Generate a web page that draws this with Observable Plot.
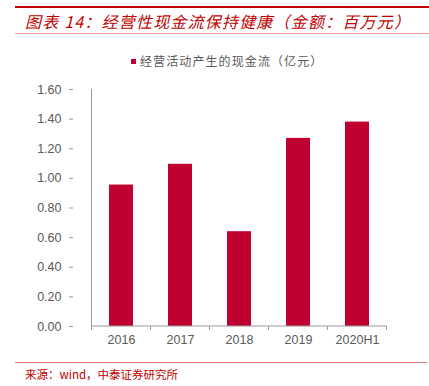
<!DOCTYPE html>
<html>
<head>
<meta charset="utf-8">
<script src="https://cdn.jsdelivr.net/npm/d3@7"></script>
<script src="https://cdn.jsdelivr.net/npm/@observablehq/plot@0.6"></script>
<style>
  html, body { margin: 0; padding: 0; background: #fff; width: 429px; height: 386px; overflow: hidden; position: relative; font-family: "Liberation Sans", Arial, sans-serif; }
  .topline { position: absolute; left: 15px; right: 0; top: 6px; height: 2px; background: #C00000; }
  .subline { position: absolute; left: 15px; right: 0; top: 33px; height: 1px; background: #F0A0A0; }
  .title { position: absolute; left: 25px; top: 11px; font-family: "Noto Sans CJK SC", sans-serif; font-style: italic; font-size: 16px; line-height: 20px; color: #C00000; letter-spacing: 1.2px; white-space: nowrap; }
  .legend { position: absolute; left: 131px; top: 52px; font-family: "Noto Sans CJK SC", sans-serif; font-size: 12px; line-height: 18px; color: #595959; white-space: nowrap; letter-spacing: 1.1px; }
  .legend .sw { display: inline-block; width: 5px; height: 5px; background: #C00030; margin-right: 4px; vertical-align: 2px; }
  #chart { position: absolute; left: 0; top: 80px; }
  .footline { position: absolute; left: 15px; right: 2px; top: 362px; height: 1px; background: #E88080; }
  .source { position: absolute; left: 25px; top: 366px; font-family: "Noto Sans CJK SC", sans-serif; font-size: 11.5px; line-height: 16px; color: #C00000; white-space: nowrap; }
</style>
</head>
<body>
<div class="topline"></div>
<div class="title">图表 14：经营性现金流保持健康（金额：百万元）</div>
<div class="subline"></div>
<div class="legend"><span class="sw"></span>经营活动产生的现金流（亿元）</div>
<div id="chart"></div>
<div class="footline"></div>
<div class="source">来源：wind，中泰证券研究所</div>
<script>
const categories = ["2016", "2017", "2018", "2019", "2020H1"];
const values = [0.955, 1.095, 0.64, 1.27, 1.38];
const yTicks = [0, 0.2, 0.4, 0.6, 0.8, 1.0, 1.2, 1.4, 1.6];

const data = categories.map((c, i) => ({cat: c, val: values[i]}));

// y-axis line plus tick marks at band boundaries on the x axis
function axisLinesAndBoundaryTicks(index, scales, values, dimensions) {
  const x = scales.x;
  const y = scales.y;
  const step = x.step();
  const bw = x.bandwidth();
  const y0 = y(0);
  const yTop = y(yTicks[yTicks.length - 1]);
  const xLeft = x(categories[0]) - (step - bw) / 2;
  const g = d3.create("svg:g");
  g.append("line").attr("x1", xLeft).attr("x2", xLeft).attr("y1", yTop).attr("y2", y0)
    .attr("stroke", "#9a9a9a").attr("stroke-width", 1);
  const xs = categories.map(c => x(c) - (step - bw) / 2);
  xs.push(x(categories[categories.length - 1]) + bw + (step - bw) / 2);
  for (const px of xs) {
    g.append("line").attr("x1", px).attr("x2", px).attr("y1", y0).attr("y2", y0 + 4)
      .attr("stroke", "#9a9a9a").attr("stroke-width", 1);
  }
  g.append("line").attr("x1", xs[0]).attr("x2", xs[xs.length - 1]).attr("y1", y0).attr("y2", y0)
    .attr("stroke", "#9a9a9a").attr("stroke-width", 1);
  return g.node();
}

const chart = Plot.plot({
  width: 429,
  height: 275,
  marginLeft: 73,
  marginRight: 25,
  marginTop: 9,
  marginBottom: 29,
  style: { fontFamily: "'Liberation Sans', Arial, sans-serif", fontSize: "12px", color: "#595959", background: "transparent" },
  x: { domain: categories, padding: 0.6, align: 0.5, label: null },
  y: { domain: [0, 1.6], label: null },
  marks: [
    Plot.barY(data, { x: "cat", y: "val", fill: "#C00030" }),
    Plot.axisY({ ticks: yTicks, tickFormat: d => d.toFixed(2), tickSize: 4, tickPadding: 8, stroke: "#9a9a9a", fill: "#595959", fontSize: 12.5 }),
    Plot.axisX({ tickSize: 0, tickPadding: 9, fill: "#595959", fontSize: 12.5 }),
    axisLinesAndBoundaryTicks
  ]
});
document.getElementById("chart").appendChild(chart);
</script>
</body>
</html>
